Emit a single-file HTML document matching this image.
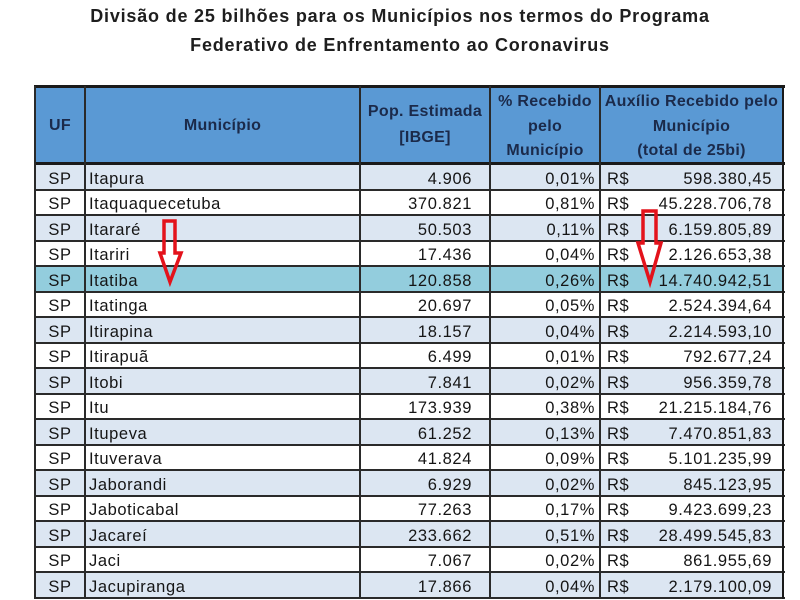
<!DOCTYPE html>
<html><head><meta charset="utf-8">
<style>
html,body{margin:0;padding:0;background:#fff;}
body{width:800px;height:600px;position:relative;overflow:hidden;font-family:"Liberation Sans",sans-serif;color:#151515;}
.title{position:absolute;left:0;width:800px;text-align:center;font-weight:bold;font-size:18px;letter-spacing:0.8px;line-height:29px;color:#1e1e1e;white-space:nowrap;}
.hdr{position:absolute;left:35px;top:86px;width:748px;height:78px;background:#5a99d4;}
.h{position:absolute;font-weight:bold;font-size:16px;letter-spacing:0.3px;color:#1b2a4a;text-align:center;white-space:nowrap;}
.r{position:absolute;left:35px;width:748px;font-size:16.5px;letter-spacing:0.6px;white-space:nowrap;}
.r span{position:absolute;top:1.5px;}
.a{background:#dce6f2;}
.w{background:#ffffff;}
.c{background:#93cddd;}
.uf{left:0;width:50px;text-align:center;}
.nm{left:54px;}
.pop{left:325px;width:112px;text-align:right;}
.pct{left:455px;width:105px;text-align:right;}
.rs{left:572px;}
.val{right:11px;text-align:right;}
.hl{position:absolute;left:34px;width:751px;height:2px;background:#2a2a2a;}
.vl{position:absolute;top:86px;height:513px;width:2px;background:#2a2a2a;}
</style></head><body>
<div class="title" style="top:2px;">Divisão de 25 bilhões para os Municípios nos termos do Programa</div>
<div class="title" style="top:31px;">Federativo de Enfrentamento ao Coronavirus</div>

<div class="hdr"></div>
<div class="h" style="left:35px;width:50px;top:114px;line-height:24.5px;">UF</div>
<div class="h" style="left:85px;width:275px;top:114px;line-height:24.5px;">Município</div>
<div class="h" style="left:360px;width:130px;top:98.5px;line-height:26px;">Pop. Estimada<br>[IBGE]</div>
<div class="h" style="left:490px;width:110px;top:90px;line-height:24.5px;">% Recebido<br>pelo<br>Município</div>
<div class="h" style="left:600px;width:183px;top:90px;line-height:24.5px;">Auxílio Recebido pelo<br>Município<br>(total de 25bi)</div>

<div class="r a" style="top:164px;height:26px;line-height:26px;"><span class="uf">SP</span><span class="nm">Itapura</span><span class="pop">4.906</span><span class="pct">0,01%</span><span class="rs">R$</span><span class="val">598.380,45</span></div>
<div class="r w" style="top:190px;height:25px;line-height:25px;"><span class="uf">SP</span><span class="nm">Itaquaquecetuba</span><span class="pop">370.821</span><span class="pct">0,81%</span><span class="rs">R$</span><span class="val">45.228.706,78</span></div>
<div class="r a" style="top:215px;height:26px;line-height:26px;"><span class="uf">SP</span><span class="nm">Itararé</span><span class="pop">50.503</span><span class="pct">0,11%</span><span class="rs">R$</span><span class="val">6.159.805,89</span></div>
<div class="r w" style="top:241px;height:25px;line-height:25px;"><span class="uf">SP</span><span class="nm">Itariri</span><span class="pop">17.436</span><span class="pct">0,04%</span><span class="rs">R$</span><span class="val">2.126.653,38</span></div>
<div class="r c" style="top:266px;height:26px;line-height:26px;"><span class="uf">SP</span><span class="nm">Itatiba</span><span class="pop">120.858</span><span class="pct">0,26%</span><span class="rs">R$</span><span class="val">14.740.942,51</span></div>
<div class="r w" style="top:292px;height:25px;line-height:25px;"><span class="uf">SP</span><span class="nm">Itatinga</span><span class="pop">20.697</span><span class="pct">0,05%</span><span class="rs">R$</span><span class="val">2.524.394,64</span></div>
<div class="r a" style="top:317px;height:26px;line-height:26px;"><span class="uf">SP</span><span class="nm">Itirapina</span><span class="pop">18.157</span><span class="pct">0,04%</span><span class="rs">R$</span><span class="val">2.214.593,10</span></div>
<div class="r w" style="top:343px;height:25px;line-height:25px;"><span class="uf">SP</span><span class="nm">Itirapuã</span><span class="pop">6.499</span><span class="pct">0,01%</span><span class="rs">R$</span><span class="val">792.677,24</span></div>
<div class="r a" style="top:368px;height:26px;line-height:26px;"><span class="uf">SP</span><span class="nm">Itobi</span><span class="pop">7.841</span><span class="pct">0,02%</span><span class="rs">R$</span><span class="val">956.359,78</span></div>
<div class="r w" style="top:394px;height:25px;line-height:25px;"><span class="uf">SP</span><span class="nm">Itu</span><span class="pop">173.939</span><span class="pct">0,38%</span><span class="rs">R$</span><span class="val">21.215.184,76</span></div>
<div class="r a" style="top:419px;height:26px;line-height:26px;"><span class="uf">SP</span><span class="nm">Itupeva</span><span class="pop">61.252</span><span class="pct">0,13%</span><span class="rs">R$</span><span class="val">7.470.851,83</span></div>
<div class="r w" style="top:445px;height:25px;line-height:25px;"><span class="uf">SP</span><span class="nm">Ituverava</span><span class="pop">41.824</span><span class="pct">0,09%</span><span class="rs">R$</span><span class="val">5.101.235,99</span></div>
<div class="r a" style="top:470px;height:26px;line-height:26px;"><span class="uf">SP</span><span class="nm">Jaborandi</span><span class="pop">6.929</span><span class="pct">0,02%</span><span class="rs">R$</span><span class="val">845.123,95</span></div>
<div class="r w" style="top:496px;height:25px;line-height:25px;"><span class="uf">SP</span><span class="nm">Jaboticabal</span><span class="pop">77.263</span><span class="pct">0,17%</span><span class="rs">R$</span><span class="val">9.423.699,23</span></div>
<div class="r a" style="top:521px;height:26px;line-height:26px;"><span class="uf">SP</span><span class="nm">Jacareí</span><span class="pop">233.662</span><span class="pct">0,51%</span><span class="rs">R$</span><span class="val">28.499.545,83</span></div>
<div class="r w" style="top:547px;height:25px;line-height:25px;"><span class="uf">SP</span><span class="nm">Jaci</span><span class="pop">7.067</span><span class="pct">0,02%</span><span class="rs">R$</span><span class="val">861.955,69</span></div>
<div class="r a" style="top:572px;height:26px;line-height:26px;"><span class="uf">SP</span><span class="nm">Jacupiranga</span><span class="pop">17.866</span><span class="pct">0,04%</span><span class="rs">R$</span><span class="val">2.179.100,09</span></div>

<!-- horizontal lines -->
<div class="hl" style="top:85px;height:3px;background:#1a1a1a;"></div>
<div class="hl" style="top:162px;height:3px;background:#1a1a1a;"></div>
<div class="hl" style="top:189px;"></div>
<div class="hl" style="top:214px;"></div>
<div class="hl" style="top:240px;"></div>
<div class="hl" style="top:265px;"></div>
<div class="hl" style="top:291px;"></div>
<div class="hl" style="top:316px;"></div>
<div class="hl" style="top:342px;"></div>
<div class="hl" style="top:367px;"></div>
<div class="hl" style="top:393px;"></div>
<div class="hl" style="top:418px;"></div>
<div class="hl" style="top:444px;"></div>
<div class="hl" style="top:469px;"></div>
<div class="hl" style="top:495px;"></div>
<div class="hl" style="top:520px;"></div>
<div class="hl" style="top:546px;"></div>
<div class="hl" style="top:571px;"></div>
<div class="hl" style="top:597px;"></div>

<!-- vertical lines -->
<div class="vl" style="left:34px;"></div>
<div class="vl" style="left:84px;"></div>
<div class="vl" style="left:359px;"></div>
<div class="vl" style="left:489px;"></div>
<div class="vl" style="left:599px;"></div>
<div class="vl" style="left:782px;background:#1a1a1a;"></div>

<!-- arrows -->
<svg style="position:absolute;left:0;top:0;" width="800" height="600">
<path d="M164,221 L175,221 L175,253 L181,253 L170,282 L160,253 L164,253 Z" fill="none" stroke="#e3121b" stroke-width="3.5" stroke-linejoin="miter"/>
<path d="M643,211 L656,211 L656,243 L661,243 L650,282 L638,243 L643,243 Z" fill="none" stroke="#e3121b" stroke-width="3.5" stroke-linejoin="miter"/>
</svg>
</body></html>
